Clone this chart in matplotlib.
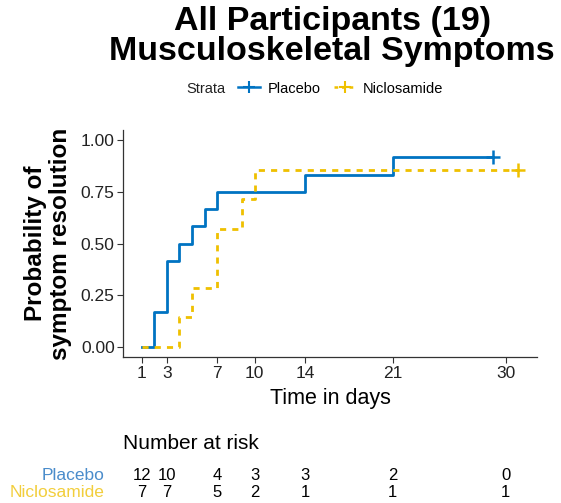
import matplotlib.pyplot as plt
from matplotlib.lines import Line2D

plt.rcParams['font.family'] = ['Liberation Sans', 'DejaVu Sans']

# Kaplan-Meier steps (time in days, cumulative probability of resolution)
placebo_t = [1, 2, 3, 4, 5, 6, 7, 14, 21, 29]
placebo_p = [0.0, 0.167, 0.417, 0.5, 0.583, 0.667, 0.75, 0.833, 0.917, 0.917]
niclo_t = [1, 4, 5, 7, 9, 10, 31]
niclo_p = [0.0, 0.143, 0.286, 0.571, 0.714, 0.857, 0.857]

# censor marks
placebo_cens = (29, 0.917)
niclo_cens = (31, 0.857)

x_ticks = [1, 3, 7, 10, 14, 21, 30]
y_ticks = [0.0, 0.25, 0.5, 0.75, 1.0]

risk_placebo = [12, 10, 4, 3, 3, 2, 0]
risk_niclo = [7, 7, 5, 2, 1, 1, 1]

blue = '#0073C2'
yellow = '#EFC000'
grey = '#333333'

fig = plt.figure(figsize=(5.61, 5.03), dpi=100)
ax = fig.add_axes([0.2193, 0.2895, 0.738, 0.4527])

ax.step(placebo_t, placebo_p, where='post', color=blue, lw=2)
ax.step(niclo_t, niclo_p, where='post', color=yellow, lw=2, ls=(0, (2.2, 2.2)))
ax.plot(*placebo_cens, marker='+', color=blue, ms=10, mew=1.8)
ax.plot(*niclo_cens, marker='+', color=yellow, ms=10, mew=1.8)

ax.set_xlim(-0.5, 32.5)
ax.set_ylim(-0.05, 1.05)
ax.set_xticks(x_ticks)
ax.set_yticks(y_ticks)
ax.set_yticklabels(['%.2f' % v for v in y_ticks])
ax.tick_params(labelsize=12.5, colors=grey, length=4, width=0.8, pad=2)
ax.tick_params(labelcolor='#222222')
for s in ['top', 'right']:
    ax.spines[s].set_visible(False)
for s in ['left', 'bottom']:
    ax.spines[s].set_color(grey)
    ax.spines[s].set_linewidth(0.9)

ax.set_xlabel('Time in days', fontsize=15.5, labelpad=5)
ax.set_ylabel('Probability of\nsymptom resolution', fontsize=17.5,
              fontweight='bold', labelpad=6, linespacing=1.15)

fig.text(0.592, 0.988, 'All Participants (19)\nMusculoskeletal Symptoms',
         ha='center', va='top', fontsize=24.5, fontweight='bold',
         linespacing=0.95)

# legend: title text on the left, then the two strata
fig.text(0.333, 0.824, 'Strata', fontsize=10.5, color='#222222', va='center')
handles = [Line2D([], [], color=blue, lw=1.8, marker='+', ms=9, mew=1.5),
           Line2D([], [], color=yellow, lw=1.8, ls=(0, (1.5, 1.5)),
                  marker='+', ms=9, mew=1.5)]
fig.legend(handles, ['Placebo', 'Niclosamide'], ncol=2, frameon=False,
           loc='center left', bbox_to_anchor=(0.425, 0.824), fontsize=10.5,
           handlelength=1.5, handletextpad=0.5, columnspacing=0.9,
           borderaxespad=0, borderpad=0)

# risk table
rax = fig.add_axes([0.2193, 0.0, 0.738, 0.15])
rax.set_xlim(ax.get_xlim())
rax.set_ylim(0, 1)
rax.axis('off')
rax.text(0.0, 0.79, 'Number at risk', transform=rax.transAxes,
         fontsize=15, va='center', ha='left')
rax.text(-0.045, 0.36, 'Placebo', transform=rax.transAxes, fontsize=12.5,
         color='#4A8CCB', ha='right', va='center')
rax.text(-0.045, 0.14, 'Niclosamide', transform=rax.transAxes, fontsize=12.5,
         color='#F2CE3C', ha='right', va='center')
for x, a, b in zip(x_ticks, risk_placebo, risk_niclo):
    rax.text(x, 0.36, str(a), ha='center', va='center', fontsize=12)
    rax.text(x, 0.14, str(b), ha='center', va='center', fontsize=12)

fig.savefig('out.png', dpi=100)
